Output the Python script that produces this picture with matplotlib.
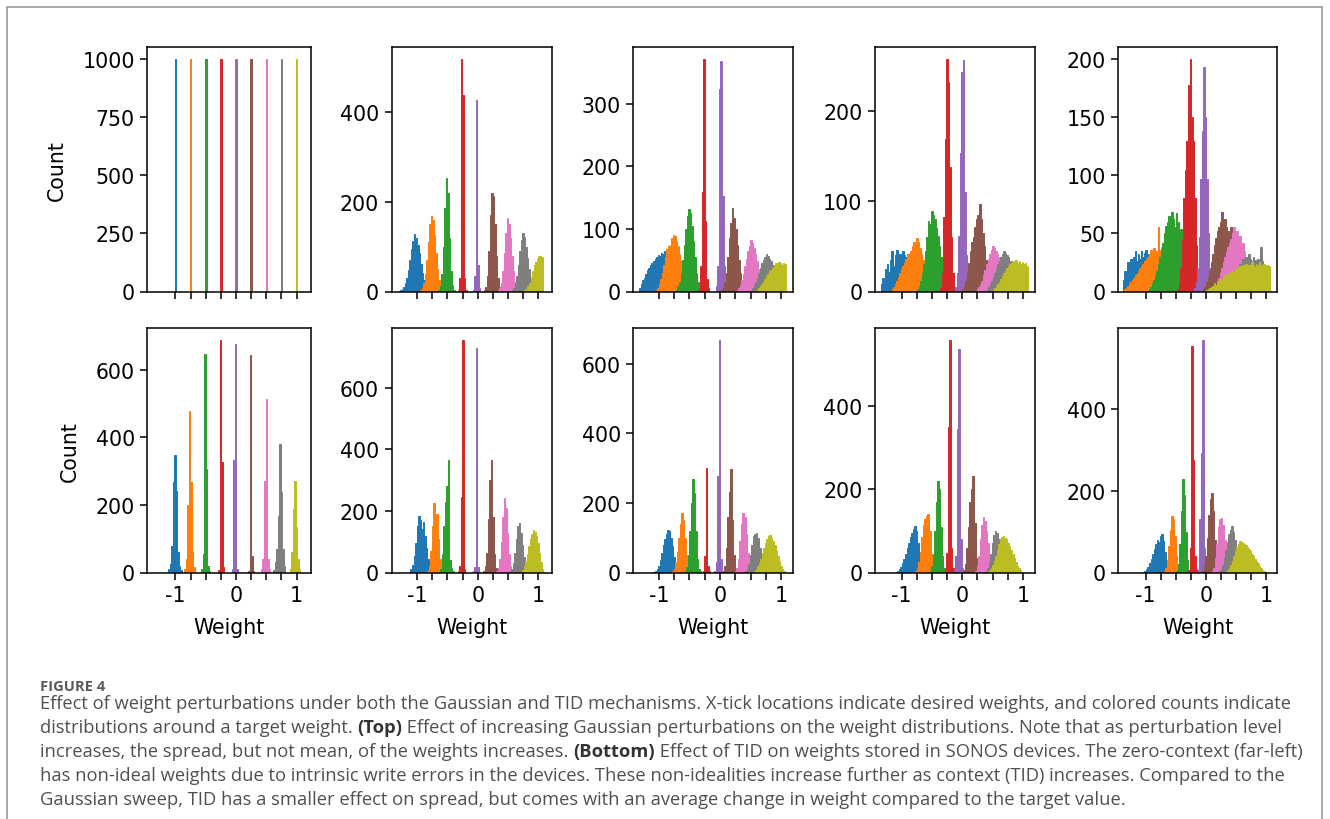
import numpy as np
import matplotlib
matplotlib.use("Agg")
import matplotlib.pyplot as plt
from matplotlib.patches import Rectangle

plt.rcParams['font.family'] = ['DejaVu Sans']

# ---------------- data ----------------
targets = [-1.0, -0.75, -0.5, -0.25, 0.0, 0.25, 0.5, 0.75, 1.0]
colors = ['#1f77b4', '#ff7f0e', '#2ca02c', '#d62728', '#9467bd',
          '#8c564b', '#e377c2', '#7f7f7f', '#bcbd22']
bin_w = 0.025

# Top row: increasing Gaussian perturbation (left edge of first bin, counts per bin)
g0_start = [-1.0125, -0.7625, -0.5125, -0.2625, -0.0125, 0.2375, 0.4875, 0.7375, 0.9875]
g0_counts = [[1000], [1000], [1000], [1000], [1000], [1000], [1000], [1000], [1000]]

g1_start = [-1.30, -0.95, -0.65, -0.33, -0.0825, 0.10, 0.33, 0.56, 0.77]
g1_counts = [
    [2, 3, 6, 10, 18, 30, 48, 70, 95, 112, 128, 118, 104, 85, 62, 42, 26, 15, 8, 4, 2],
    [3, 8, 18, 38, 70, 110, 150, 167, 158, 125, 85, 50, 26, 12, 5, 2],
    [4, 12, 40, 100, 185, 253, 220, 120, 45, 14, 4],
    [3, 30, 518, 438, 30, 3],
    [3, 34, 427, 60, 8],
    [3, 10, 35, 90, 170, 219, 212, 150, 80, 30, 10, 3],
    [3, 8, 20, 45, 85, 130, 163, 150, 120, 80, 45, 22, 10, 4],
    [3, 8, 18, 35, 60, 90, 115, 130, 122, 100, 75, 50, 30, 15, 7, 3],
    [3, 6, 12, 20, 32, 45, 58, 66, 72, 78, 80, 76],
]

g2_start = [-1.32, -1.05, -0.72, -0.35, -0.0675, 0.02, 0.27, 0.50, 0.60]
g2_counts = [
    [6, 12, 18, 22, 28, 35, 38, 42, 45, 48, 52, 55, 58, 56, 62, 60, 64, 58, 55, 50, 45, 40, 33, 27, 20, 14, 9, 5, 3],
    [3, 6, 12, 20, 30, 42, 55, 68, 72, 75, 85, 90, 88, 80, 72, 60, 48, 35, 24, 15, 8, 4],
    [3, 8, 15, 30, 50, 75, 100, 120, 131, 125, 105, 80, 55, 30, 15, 7, 3],
    [5, 40, 159, 372, 113, 20, 5],
    [8, 40, 324, 368, 153, 40, 8],
    [3, 6, 15, 30, 55, 85, 110, 134, 118, 100, 75, 50, 30, 16, 8, 3],
    [3, 6, 10, 18, 28, 40, 52, 65, 72, 83, 78, 70, 60, 48, 36, 25, 15, 8, 4],
    [3, 6, 10, 15, 22, 30, 38, 45, 50, 55, 60, 57, 52, 48, 42, 35, 28, 20, 14, 8, 4],
    [3, 5, 8, 12, 15, 20, 24, 28, 32, 35, 38, 42, 45, 44, 47, 45, 43, 46, 44],
]

g3_start = [-1.34, -1.16, -0.74, -0.3625, -0.1175, 0.0, 0.24, 0.40, 0.50]
g3_counts = [
    [8, 15, 12, 25, 30, 22, 35, 45, 28, 40, 46, 38, 42, 35, 45, 40, 38, 42, 36, 30, 33, 28, 25, 20, 18, 14, 10, 7, 4, 2],
    [3, 5, 8, 12, 16, 20, 25, 28, 32, 36, 40, 42, 45, 50, 55, 52, 59, 55, 48, 42, 35, 28, 20, 14, 9, 5, 3],
    [3, 6, 12, 20, 30, 45, 60, 78, 75, 89, 85, 80, 70, 62, 50, 38, 25, 15, 8, 4],
    [4, 20, 83, 169, 258, 232, 138, 60, 20, 5],
    [5, 20, 61, 154, 243, 256, 110, 40, 10, 3],
    [3, 6, 12, 20, 32, 45, 55, 60, 72, 80, 85, 97, 80, 65, 50, 35, 22, 12, 6, 3],
    [3, 5, 8, 12, 18, 24, 30, 36, 42, 46, 50, 48, 45, 42, 38, 32, 26, 20, 14, 9, 5, 3],
    [3, 5, 8, 12, 16, 20, 25, 30, 34, 38, 42, 45, 43, 40, 38, 34, 30, 25, 20, 15, 10, 6, 3],
    [2, 4, 6, 8, 11, 14, 17, 20, 23, 26, 28, 30, 32, 34, 33, 35, 32, 34, 31, 33, 30, 32, 28],
]

g4_start = [-1.38, -1.35, -0.95, -0.4725, -0.1925, -0.05, 0.10, 0.35, 0.0]
g4_counts = [
    [10, 18, 15, 25, 22, 28, 20, 30, 35, 26, 32, 28, 35, 30, 33, 36, 30, 32, 28, 30, 25, 22, 20, 17, 14, 10, 7, 5, 3, 2],
    [2, 3, 5, 7, 8, 10, 12, 14, 15, 18, 20, 22, 24, 26, 28, 30, 32, 36, 34, 37, 30, 35, 55, 36, 38, 37, 35, 30, 25, 18, 12, 7, 3],
    [2, 4, 7, 10, 14, 18, 24, 30, 36, 42, 50, 56, 60, 65, 58, 68, 62, 55, 67, 60, 52, 54, 45, 35, 25, 15, 8, 4],
    [2, 8, 20, 45, 80, 104, 129, 177, 200, 150, 129, 80, 40, 18, 8, 3],
    [3, 8, 20, 47, 97, 138, 193, 150, 97, 50, 20, 8, 3],
    [2, 4, 8, 12, 18, 25, 32, 40, 46, 52, 55, 60, 68, 58, 62, 55, 52, 48, 55, 45, 38, 30, 22, 15, 9, 5, 2],
    [2, 4, 6, 9, 12, 16, 20, 25, 30, 34, 38, 42, 45, 50, 55, 47, 52, 45, 48, 40, 42, 35, 30, 25, 20, 15, 10, 6, 3],
    [2, 4, 6, 9, 12, 15, 18, 20, 24, 22, 28, 25, 30, 27, 32, 28, 26, 30, 27, 25, 28, 24, 38, 26, 22, 20, 18, 15],
    [1, 2, 3, 4, 5, 7, 6, 8, 9, 11, 10, 12, 13, 15, 14, 16, 17, 18, 17, 20, 19, 21, 22, 20, 23, 21, 24, 22, 23, 21,
     25, 23, 21, 24, 22, 25, 23, 22, 24, 21, 23, 22],
]

# Bottom row: increasing TID
h0_start = [-1.1225, -0.8575, -0.5725, -0.2975, -0.0675, 0.2025, 0.4125, 0.6175, 0.8875]
h0_counts = [
    [10, 25, 79, 267, 347, 242, 60, 20, 8],
    [10, 40, 200, 479, 267, 60, 15],
    [10, 54, 647, 306, 20, 5],
    [8, 689, 327, 15],
    [10, 334, 676, 10],
    [5, 644, 49, 5],
    [10, 40, 271, 513, 40, 10],
    [8, 30, 69, 168, 380, 239, 70, 20],
    [10, 60, 188, 271, 134, 40, 10],
]

h1_start = [-1.1325, -0.8325, -0.6175, -0.3325, -0.0825, 0.0925, 0.3025, 0.5275, 0.7075]
h1_counts = [
    [3, 10, 25, 55, 95, 150, 184, 170, 140, 165, 120, 80, 45, 20, 8, 3],
    [5, 20, 70, 150, 227, 180, 190, 110, 45, 12, 3],
    [10, 60, 150, 230, 281, 367, 40, 15, 5],
    [5, 20, 244, 757, 10],
    [5, 17, 730, 17, 3],
    [5, 20, 65, 173, 302, 367, 180, 60, 15, 3],
    [5, 15, 45, 100, 180, 241, 210, 130, 60, 20, 5],
    [4, 12, 30, 65, 110, 150, 162, 130, 90, 50, 22, 8, 3],
    [3, 8, 20, 38, 60, 85, 110, 125, 138, 132, 120, 95, 65, 35, 12, 3],
]

h2_start = [-1.0875, -0.7825, -0.5775, -0.2825, -0.0975, 0.0425, 0.2425, 0.4125, 0.5325]
h2_counts = [
    [2, 5, 10, 20, 35, 55, 78, 95, 110, 122, 118, 100, 75, 45, 20, 6],
    [3, 10, 30, 60, 100, 140, 172, 150, 100, 50, 18, 5],
    [3, 15, 50, 120, 200, 270, 230, 120, 40, 10, 3],
    [3, 48, 301, 20, 3],
    [5, 30, 277, 670, 40, 5],
    [4, 20, 70, 160, 233, 297, 150, 50, 10],
    [3, 12, 40, 90, 140, 172, 160, 110, 55, 20, 5],
    [3, 10, 25, 50, 80, 105, 112, 115, 98, 70, 40, 18, 5],
    [2, 5, 10, 18, 28, 40, 55, 70, 85, 95, 105, 107, 100, 92, 80, 65, 48, 32, 20, 10, 5, 2],
]

h3_start = [-1.0925, -0.7725, -0.5375, -0.2875, -0.1375, 0.0175, 0.2125, 0.3875, 0.4175]
h3_counts = [
    [2, 4, 8, 14, 22, 32, 45, 58, 72, 85, 95, 105, 112, 100, 70, 35, 12, 3],
    [3, 10, 25, 50, 85, 115, 130, 135, 141, 100, 45, 12, 3],
    [4, 15, 45, 100, 170, 221, 200, 110, 40, 10, 3],
    [5, 48, 350, 561, 60, 10],
    [5, 40, 345, 538, 80, 10],
    [5, 20, 60, 110, 170, 200, 233, 120, 35, 8],
    [4, 15, 40, 80, 115, 133, 125, 100, 70, 42, 20, 8, 3],
    [3, 10, 25, 45, 70, 90, 100, 95, 80, 55, 30, 12, 4],
    [2, 5, 10, 18, 28, 40, 55, 68, 78, 85, 88, 84, 80, 72, 65, 55, 45, 35, 25, 16, 10, 5, 2],
]

h4_start = [-1.0425, -0.6975, -0.4925, -0.2925, -0.1375, -0.0625, 0.0975, 0.2175, 0.3225]
h4_counts = [
    [2, 4, 8, 14, 22, 32, 45, 58, 70, 80, 75, 88, 93, 78, 50, 22, 6],
    [3, 10, 30, 65, 105, 138, 130, 90, 40, 12, 3],
    [4, 20, 70, 150, 228, 190, 100, 30, 6],
    [5, 60, 553, 276, 40, 8],
    [5, 130, 293, 569, 60, 10],
    [4, 15, 40, 85, 140, 180, 195, 150, 80, 30, 8],
    [3, 12, 35, 70, 110, 130, 134, 115, 80, 45, 18, 5],
    [3, 8, 18, 35, 55, 75, 95, 105, 114, 100, 80, 55, 30, 12, 4],
    [2, 5, 10, 18, 28, 40, 52, 62, 70, 77, 75, 72, 70, 66, 62, 57, 52, 46, 40, 34, 28, 22, 16, 11, 7, 4, 2],
]

top_yticks = [[0, 250, 500, 750, 1000], [0, 200, 400], [0, 100, 200, 300], [0, 100, 200], [0, 50, 100, 150, 200]]
bottom_yticks = [[0, 200, 400, 600], [0, 200, 400, 600], [0, 200, 400, 600], [0, 200, 400], [0, 200, 400]]
xtick_labels = ['-1', '', '', '', '0', '', '', '', '1']
col_xlims = [(-1.466, 1.231), (-1.417, 1.219), (-1.417, 1.198), (-1.436, 1.196), (-1.45, 1.169)]

caption_head = "FIGURE 4"
caption_lines = [
    [("Effect of weight perturbations under both the Gaussian and TID mechanisms. X-tick locations indicate desired weights, and colored counts indicate", False)],
    [("distributions around a target weight. ", False), ("(Top)", True),
     (" Effect of increasing Gaussian perturbations on the weight distributions. Note that as perturbation level", False)],
    [("increases, the spread, but not mean, of the weights increases. ", False), ("(Bottom)", True),
     (" Effect of TID on weights stored in SONOS devices. The zero-context (far-left)", False)],
    [("has non-ideal weights due to intrinsic write errors in the devices. These non-idealities increase further as context (TID) increases. Compared to the", False)],
    [("Gaussian sweep, TID has a smaller effect on spread, but comes with an average change in weight compared to the target value.", False)],
]

# ---------------- figure ----------------
W, H = 1330, 820
fig = plt.figure(figsize=(W / 100, H / 100), dpi=100)
fig.patch.set_facecolor('white')

col_left_px = [147.3, 391.7, 633.3, 875.0, 1118.3]
col_width_px = [163.2, 160.0, 160.0, 160.0, 158.4]
row_top_px = [48.0, 329.0]
row_h_px = 244.5

FS = 14.8
top_sets = [(g0_start, g0_counts), (g1_start, g1_counts), (g2_start, g2_counts),
            (g3_start, g3_counts), (g4_start, g4_counts)]
bot_sets = [(h0_start, h0_counts), (h1_start, h1_counts), (h2_start, h2_counts),
            (h3_start, h3_counts), (h4_start, h4_counts)]

for r, sets in enumerate([top_sets, bot_sets]):
    for c, (starts, counts) in enumerate(sets):
        l = col_left_px[c] / W
        b = 1 - (row_top_px[r] + row_h_px) / H
        ax = fig.add_axes([l, b, col_width_px[c] / W, row_h_px / H])
        peak = 0
        for k in range(9):
            vals = np.asarray(counts[k], dtype=float)
            edges = starts[k] + bin_w * np.arange(len(vals) + 1)
            ax.stairs(vals, edges, fill=True, facecolor=colors[k],
                      edgecolor=colors[k], linewidth=0.7)
            peak = max(peak, vals.max())
        ax.set_xlim(*col_xlims[c])
        ax.set_ylim(0, peak * 1.05)
        yt = top_yticks[c] if r == 0 else bottom_yticks[c]
        ax.set_yticks(yt)
        ax.set_yticklabels([str(v) for v in yt], fontsize=FS)
        ax.set_xticks(targets)
        if r == 1:
            ax.set_xticklabels(xtick_labels, fontsize=FS)
            ax.set_xlabel("Weight", fontsize=FS, labelpad=9)
        else:
            ax.set_xticklabels([''] * 9)
        if c == 0:
            ax.set_ylabel("Count", fontsize=FS, labelpad=11)
        ax.tick_params(length=5, width=1.1, pad=4)
        for sp in ax.spines.values():
            sp.set_linewidth(1.1)

# border (bottom edge falls outside the canvas, as in the reference)
fig.add_artist(Rectangle((7 / W, -0.02), (1322 - 7) / W, 1.02 - 8 / H,
                         transform=fig.transFigure, fill=False,
                         edgecolor='#9a9a9a', linewidth=1.2))

# caption
renderer = fig.canvas.get_renderer()
cap_family = ['Open Sans', 'DejaVu Sans']
probe = fig.text(0, 0, caption_lines[0][0][0], fontsize=12, family=cap_family)
w12 = probe.get_window_extent(renderer=renderer).width
probe.remove()
cap_fs = 12 * 1247.0 / w12

fig.text(40 / W, 1 - 687 / H, caption_head, fontsize=cap_fs * 0.8, family=cap_family,
         weight='bold', color='#5a5a5a', va='center', ha='left')

line_y = [704, 728, 752, 776, 800]
for yy, segs in zip(line_y, caption_lines):
    x = 40.0
    for txt, bold in segs:
        t = fig.text(x / W, 1 - yy / H, txt, fontsize=cap_fs, family=cap_family,
                     weight='bold' if bold else 'normal',
                     color='#333333' if bold else '#505050', va='center', ha='left')
        x += t.get_window_extent(renderer=renderer).width

fig.savefig("out.png", dpi=100, facecolor='white')
